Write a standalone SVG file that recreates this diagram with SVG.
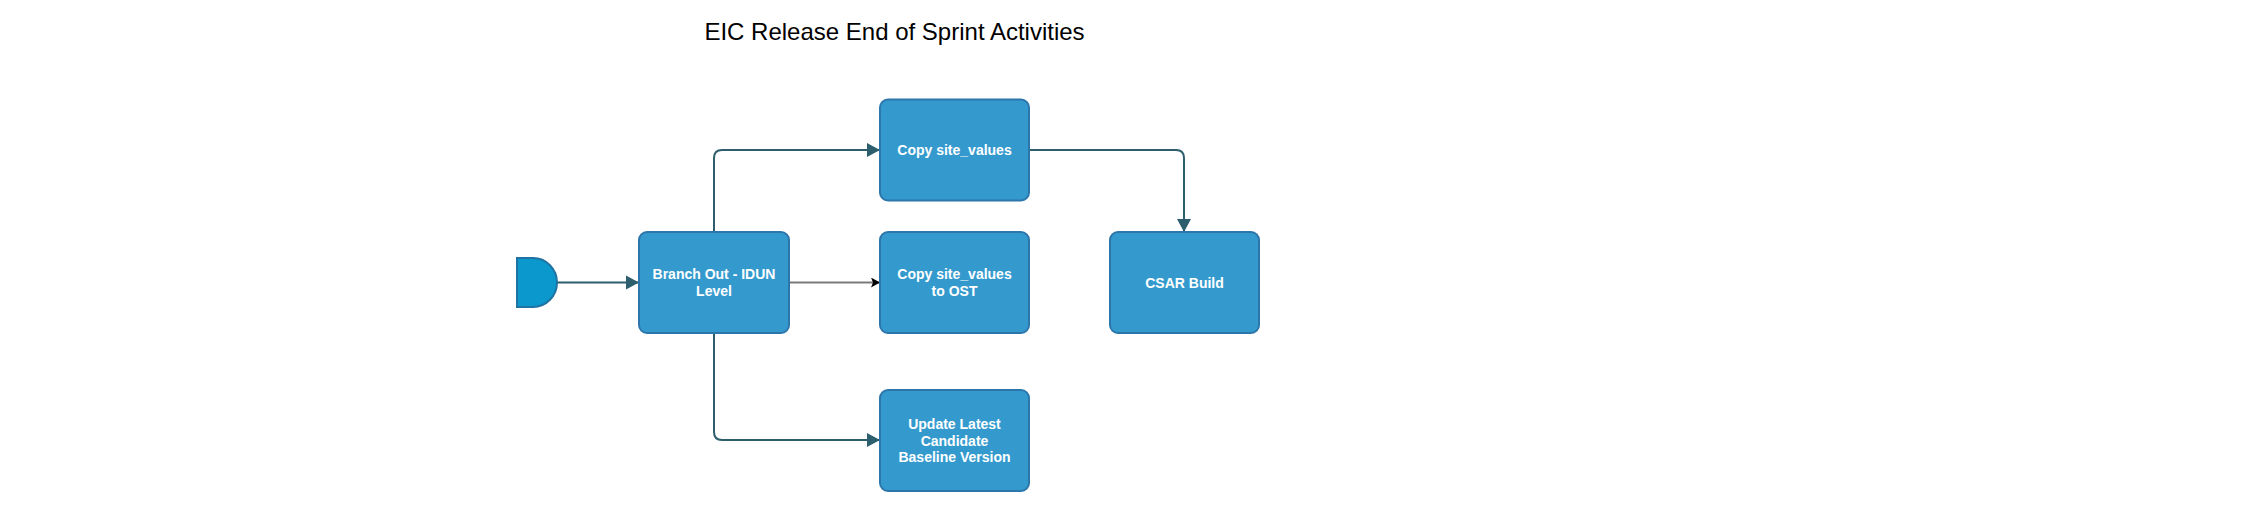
<svg xmlns="http://www.w3.org/2000/svg" width="2251" height="510" viewBox="0 0 2251 510">
<style>
.box{fill:#349ACE;stroke:#2D76AB;stroke-width:2}
.lbl{font-family:"Liberation Sans",Arial,sans-serif;font-size:14px;font-weight:bold;fill:#ffffff;text-anchor:middle}
.title{font-family:"Liberation Sans",Arial,sans-serif;font-size:24px;fill:#000000;text-anchor:middle}
.edge{fill:none;stroke:#2C5E6E;stroke-width:2}
.edge2{fill:none;stroke:#7A7A7A;stroke-width:2}
</style>
<defs>
<marker id="ah" markerUnits="userSpaceOnUse" markerWidth="14" markerHeight="16" refX="13" refY="7" orient="auto" viewBox="0 0 14 14">
<path d="M0,0 L13,7 L0,14 Z" fill="#2C5E6E"/>
</marker>
<marker id="ab" markerUnits="userSpaceOnUse" markerWidth="10" markerHeight="10" refX="9" refY="5" orient="auto" viewBox="0 0 10 10">
<path d="M0,0 L9,5 L0,10 L2,5 Z" fill="#000000"/>
</marker>
</defs>
<rect width="2251" height="510" fill="#ffffff"/>
<text class="title" x="894.5" y="40">EIC Release End of Sprint Activities</text>
<g id="connectors">
<path class="edge" d="M557,282.5 H639" marker-end="url(#ah)"/>
<path class="edge" d="M714,232 V158 Q714,150 722,150 H880" marker-end="url(#ah)"/>
<path class="edge2" d="M789,282.5 H880" marker-end="url(#ab)"/>
<path class="edge" d="M714,333 V432 Q714,440 722,440 H880" marker-end="url(#ah)"/>
<path class="edge" d="M1029,150 H1176 Q1184,150 1184,158 V232" marker-end="url(#ah)"/>
</g>
<g id="start">
<path d="M517,258 H533 A24,24.5 0 0 1 533,307 H517 Z" fill="#0A98CD" stroke="#1F73A3" stroke-width="2"/>
</g>
<g id="branch">
<rect class="box" x="639" y="232" width="150" height="101" rx="8"/>
<text class="lbl" x="714" y="279">Branch Out - IDUN</text>
<text class="lbl" x="714" y="296">Level</text>
</g>
<g id="copy">
<rect class="box" x="880" y="99.5" width="149" height="101" rx="8"/>
<text class="lbl" x="954.5" y="155">Copy site_values</text>
</g>
<g id="copyost">
<rect class="box" x="880" y="232" width="149" height="101" rx="8"/>
<text class="lbl" x="954.5" y="279">Copy site_values</text>
<text class="lbl" x="954.5" y="296">to OST</text>
</g>
<g id="update">
<rect class="box" x="880" y="390" width="149" height="101" rx="8"/>
<text class="lbl" x="954.5" y="429">Update Latest</text>
<text class="lbl" x="954.5" y="446">Candidate</text>
<text class="lbl" x="954.5" y="462">Baseline Version</text>
</g>
<g id="csar">
<rect class="box" x="1110" y="232" width="149" height="101" rx="8"/>
<text class="lbl" x="1184.5" y="288">CSAR Build</text>
</g>
</svg>
